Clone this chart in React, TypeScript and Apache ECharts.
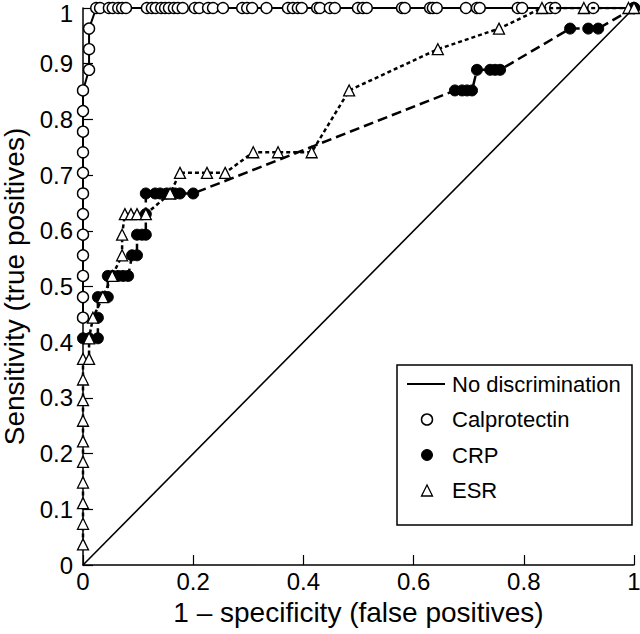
import React, { useEffect, useRef } from "react";
import * as echarts from "echarts";

const xTicks = [0, 0.2, 0.4, 0.6, 0.8, 1];
const yTicks = [0, 0.1, 0.2, 0.3, 0.4, 0.5, 0.6, 0.7, 0.8, 0.9, 1];

const diagX = [0, 1];
const diagY = [0, 1];

const calproX = [0, 0, 0, 0, 0, 0, 0, 0, 0, 0, 0, 0, 0.011, 0.011, 0.011, 0.024, 0.031, 0.047, 0.054, 0.064, 0.071, 0.078, 0.116, 0.125, 0.132, 0.142, 0.149, 0.156, 0.165, 0.172, 0.181, 0.203, 0.211, 0.227, 0.236, 0.254, 0.289, 0.298, 0.307, 0.333, 0.372, 0.381, 0.39, 0.397, 0.425, 0.43, 0.448, 0.457, 0.499, 0.508, 0.515, 0.579, 0.584, 0.63, 0.635, 0.642, 0.695, 0.715, 0.72, 0.789, 0.797, 0.848, 0.857, 0.926, 1];
const calproY = [0.444, 0.481, 0.519, 0.556, 0.593, 0.63, 0.667, 0.704, 0.741, 0.778, 0.815, 0.852, 0.889, 0.926, 0.963, 1, 1, 1, 1, 1, 1, 1, 1, 1, 1, 1, 1, 1, 1, 1, 1, 1, 1, 1, 1, 1, 1, 1, 1, 1, 1, 1, 1, 1, 1, 1, 1, 1, 1, 1, 1, 1, 1, 1, 1, 1, 1, 1, 1, 1, 1, 1, 1, 1, 1];

const crpX = [0, 0.011, 0.027, 0.027, 0.027, 0.036, 0.045, 0.045, 0.054, 0.064, 0.073, 0.082, 0.089, 0.098, 0.098, 0.107, 0.114, 0.114, 0.114, 0.131, 0.14, 0.152, 0.167, 0.176, 0.2, 0.675, 0.688, 0.697, 0.706, 0.715, 0.739, 0.748, 0.757, 0.884, 0.917, 0.935, 1];
const crpY = [0.407, 0.407, 0.407, 0.444, 0.481, 0.481, 0.481, 0.519, 0.519, 0.519, 0.519, 0.519, 0.556, 0.556, 0.593, 0.593, 0.593, 0.63, 0.667, 0.667, 0.667, 0.667, 0.667, 0.667, 0.667, 0.852, 0.852, 0.852, 0.852, 0.889, 0.889, 0.889, 0.889, 0.963, 0.963, 0.963, 1];

const esrX = [0, 0, 0, 0, 0, 0, 0, 0, 0, 0, 0.011, 0.011, 0.018, 0.036, 0.053, 0.071, 0.071, 0.076, 0.087, 0.098, 0.114, 0.158, 0.176, 0.225, 0.258, 0.309, 0.354, 0.415, 0.483, 0.644, 0.755, 0.833, 0.909, 0.99, 1];
const esrY = [0.037, 0.074, 0.111, 0.148, 0.185, 0.222, 0.259, 0.296, 0.333, 0.37, 0.37, 0.407, 0.444, 0.481, 0.519, 0.556, 0.593, 0.63, 0.63, 0.63, 0.63, 0.667, 0.704, 0.704, 0.704, 0.741, 0.741, 0.741, 0.852, 0.926, 0.963, 1, 1, 1, 1];

const legendLabels = ["No discrimination", "Calprotectin", "CRP", "ESR"];

const zip = (xs: number[], ys: number[]) => xs.map((x, i) => [x, ys[i]]);

const FONT = "'Liberation Sans', Arial, sans-serif";

const fmtTick = (v: number, ticks: number[]) => {
  const r = Number(v.toFixed(1));
  return ticks.includes(r) ? String(r) : "";
};

export default function App() {
  const ref = useRef<HTMLDivElement>(null);
  useEffect(() => {
    if (!ref.current) return;
    const chart = echarts.init(ref.current, undefined, { renderer: "svg" });
    const legX = 397;
    const legY = 365;
    const rowH = 35.5;
    const iconX = 427;
    const textX = 452;
    const firstRow = legY + 19;
    const graphic: any[] = [
      {
        type: "rect",
        shape: { x: legX, y: legY, width: 235, height: 160 },
        style: { fill: "#fff", stroke: "#000", lineWidth: 1.5 },
        z: 100,
      },
      {
        type: "line",
        shape: { x1: iconX - 20, y1: firstRow, x2: iconX + 18, y2: firstRow },
        style: { stroke: "#000", lineWidth: 2 },
        z: 101,
      },
      {
        type: "circle",
        shape: { cx: iconX, cy: firstRow + rowH, r: 5.5 },
        style: { fill: "#fff", stroke: "#000", lineWidth: 1.5 },
        z: 101,
      },
      {
        type: "circle",
        shape: { cx: iconX, cy: firstRow + rowH * 2, r: 5.5 },
        style: { fill: "#000", stroke: "#000", lineWidth: 1 },
        z: 101,
      },
      {
        type: "polygon",
        shape: {
          points: [
            [iconX, firstRow + rowH * 3 - 5.5],
            [iconX - 5.5, firstRow + rowH * 3 + 5.5],
            [iconX + 5.5, firstRow + rowH * 3 + 5.5],
          ],
        },
        style: { fill: "#fff", stroke: "#000", lineWidth: 1.3 },
        z: 101,
      },
      ...legendLabels.map((t, i) => ({
        type: "text",
        x: textX,
        y: firstRow + rowH * i,
        style: {
          text: t,
          fill: "#000",
          font: `22px ${FONT}`,
          textVerticalAlign: "middle",
          textAlign: "left",
        },
        z: 101,
      })),
    ];

    chart.setOption({
      animation: false,
      backgroundColor: "#fff",
      textStyle: { fontFamily: FONT },
      grid: { left: 83, right: 6, top: 8, bottom: 69, containLabel: false, outerBoundsMode: "none" },
      xAxis: {
        type: "value",
        min: 0,
        max: 1,
        interval: 0.2,
        name: "1 – specificity (false positives)",
        nameLocation: "middle",
        nameGap: 33,
        nameTextStyle: { fontSize: 28, color: "#000", fontFamily: FONT },
        axisLine: { show: true, lineStyle: { color: "#000", width: 1.5 } },
        axisTick: { show: true, inside: true, length: 10, lineStyle: { color: "#000", width: 1.2 } },
        axisLabel: {
          fontSize: 24,
          color: "#000",
          margin: 4,
          fontFamily: FONT,
          formatter: (v: number) => fmtTick(v, xTicks),
        },
        splitLine: { show: false },
      },
      yAxis: {
        type: "value",
        min: 0,
        max: 1,
        interval: 0.1,
        name: "Sensitivity (true positives)",
        nameLocation: "middle",
        nameGap: 45,
        nameTextStyle: { fontSize: 28, color: "#000", fontFamily: FONT },
        axisLine: { show: true, lineStyle: { color: "#000", width: 1.5 } },
        axisTick: { show: true, inside: true, length: 10, lineStyle: { color: "#000", width: 1.2 } },
        axisLabel: {
          fontSize: 24,
          color: "#000",
          margin: 10,
          fontFamily: FONT,
          formatter: (v: number) => {
            const s = fmtTick(v, yTicks);
            return s === "1" ? "{top|1}" : s;
          },
          rich: {
            top: { fontSize: 24, color: "#000", fontFamily: FONT, padding: [10, 0, 0, 0] },
          },
        },
        splitLine: { show: false },
      },
      series: [
        {
          name: "No discrimination",
          type: "line",
          data: zip(diagX, diagY),
          showSymbol: false,
          symbol: "none",
          lineStyle: { color: "#000", width: 1.6 },
          z: 2,
        },
        {
          name: "Calprotectin",
          type: "line",
          data: zip(calproX, calproY),
          symbol: "circle",
          symbolSize: 11,
          itemStyle: { color: "#fff", borderColor: "#000", borderWidth: 1.4 },
          lineStyle: { color: "#000", width: 2 },
          z: 3,
        },
        {
          name: "CRP",
          type: "line",
          data: zip(crpX, crpY),
          symbol: "circle",
          symbolSize: 11,
          itemStyle: { color: "#000", borderColor: "#000", borderWidth: 1 },
          lineStyle: { color: "#000", width: 2.5, type: [10, 5] },
          z: 4,
        },
        {
          name: "ESR",
          type: "line",
          data: zip(esrX, esrY),
          symbol: "triangle",
          symbolSize: 11,
          itemStyle: { color: "#fff", borderColor: "#000", borderWidth: 1.3 },
          lineStyle: { color: "#000", width: 2.5, type: [4, 3] },
          z: 5,
        },
      ],
      graphic,
    });
    return () => chart.dispose();
  }, []);
  return <div ref={ref} style={{ width: 640, height: 634, position: "absolute", left: 0, top: 0 }} />;
}
